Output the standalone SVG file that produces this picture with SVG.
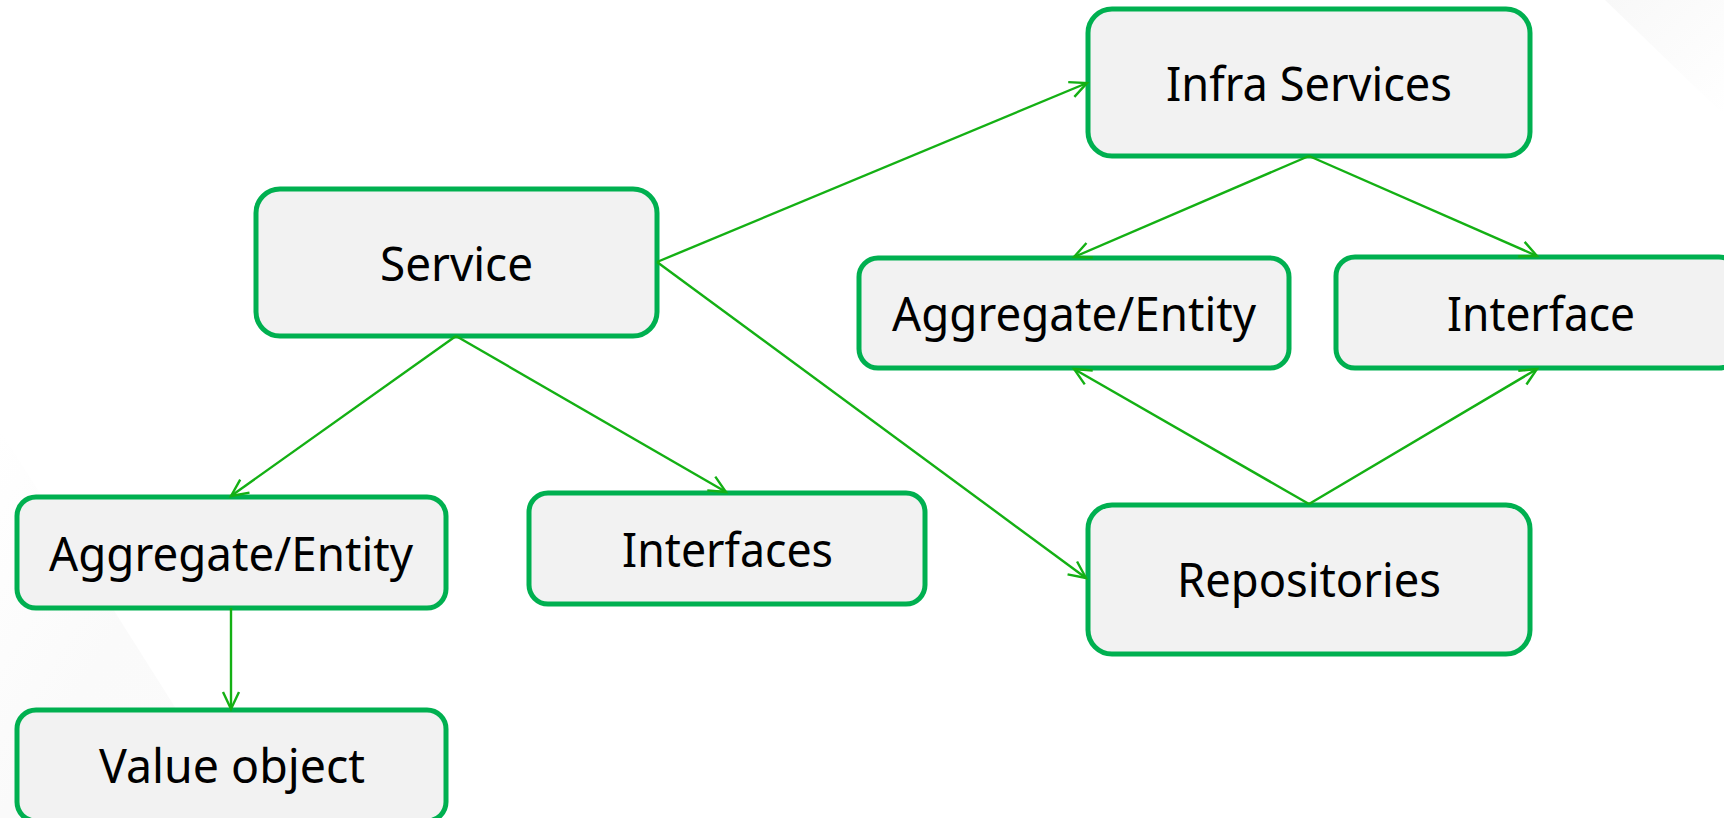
<svg xmlns="http://www.w3.org/2000/svg" width="1724" height="818" viewBox="0 0 1724 818">
  <defs>
    <style>
      .box { fill: #F2F2F2; stroke: #00B050; stroke-width: 5; }
      .label { font-family: "Noto Sans", "Open Sans", sans-serif; font-size: 47.5px; fill: #000000; text-anchor: middle; }
      .edge { stroke: #14B014; stroke-width: 2.4; fill: none; marker-end: url(#arrow); }
    </style>
    <marker id="arrow" markerUnits="userSpaceOnUse" markerWidth="26" markerHeight="22" viewBox="-20 -11 22 22" refX="0" refY="0" orient="auto">
      <path d="M-17,-8 L0,0 L-17,8" fill="none" stroke="#14B014" stroke-width="2.4"/>
    </marker>
    <linearGradient id="hazeTR" x1="0" y1="0" x2="1" y2="1">
      <stop offset="0" stop-color="#F8F8F8"/>
      <stop offset="1" stop-color="#FFFFFF"/>
    </linearGradient>
    <linearGradient id="hazeBL" x1="0" y1="0" x2="1" y2="1">
      <stop offset="0" stop-color="#FFFFFF"/>
      <stop offset="0.5" stop-color="#FAFAFA"/>
      <stop offset="1" stop-color="#FBFBFB"/>
    </linearGradient>
  </defs>

  <!-- page background with faint corner wedges -->
  <rect x="0" y="0" width="1724" height="818" fill="#FFFFFF"/>
  <polygon points="1605,0 1724,0 1724,115" fill="url(#hazeTR)"/>
  <polygon points="0,430 245,818 0,818" fill="url(#hazeBL)"/>

  <g id="nodes">
    <g id="service">
      <rect class="box" x="256" y="189" width="401" height="147" rx="24"/>
      <text class="label" x="456.5" y="281" textLength="153" lengthAdjust="spacingAndGlyphs">Service</text>
    </g>
    <g id="infra-services">
      <rect class="box" x="1088" y="9" width="442" height="147" rx="24"/>
      <text class="label" x="1309" y="101" textLength="286" lengthAdjust="spacingAndGlyphs">Infra Services</text>
    </g>
    <g id="infra-aggregate">
      <rect class="box" x="859" y="258" width="430" height="110" rx="19"/>
      <text class="label" x="1074" y="331" textLength="364" lengthAdjust="spacingAndGlyphs">Aggregate/Entity</text>
    </g>
    <g id="infra-interface">
      <rect class="box" x="1336" y="257" width="402" height="111" rx="19"/>
      <text class="label" x="1541" y="331" textLength="188" lengthAdjust="spacingAndGlyphs">Interface</text>
    </g>
    <g id="repositories">
      <rect class="box" x="1088" y="505" width="442" height="149" rx="24"/>
      <text class="label" x="1309" y="597" textLength="264" lengthAdjust="spacingAndGlyphs">Repositories</text>
    </g>
    <g id="aggregate">
      <rect class="box" x="17" y="497" width="429" height="111" rx="19"/>
      <text class="label" x="231" y="571" textLength="364" lengthAdjust="spacingAndGlyphs">Aggregate/Entity</text>
    </g>
    <g id="interfaces">
      <rect class="box" x="529" y="493" width="396" height="111" rx="19"/>
      <text class="label" x="727.5" y="567" textLength="211" lengthAdjust="spacingAndGlyphs">Interfaces</text>
    </g>
    <g id="value-object">
      <rect class="box" x="17" y="710" width="429" height="111" rx="19"/>
      <text class="label" x="232" y="783" textLength="266" lengthAdjust="spacingAndGlyphs">Value object</text>
    </g>
  </g>

  <g id="connectors">
    <line class="edge" x1="657" y1="262" x2="1087" y2="83"/>
    <line class="edge" x1="657" y1="262" x2="1086" y2="578"/>
    <line class="edge" x1="456" y1="336" x2="231" y2="496"/>
    <line class="edge" x1="456" y1="336" x2="726" y2="492"/>
    <line class="edge" x1="1309" y1="156" x2="1074" y2="257"/>
    <line class="edge" x1="1309" y1="156" x2="1537" y2="256"/>
    <line class="edge" x1="1309" y1="504" x2="1074" y2="369"/>
    <line class="edge" x1="1309" y1="504" x2="1537" y2="369"/>
    <line class="edge" x1="231" y1="608" x2="231" y2="709"/>
  </g>
</svg>
